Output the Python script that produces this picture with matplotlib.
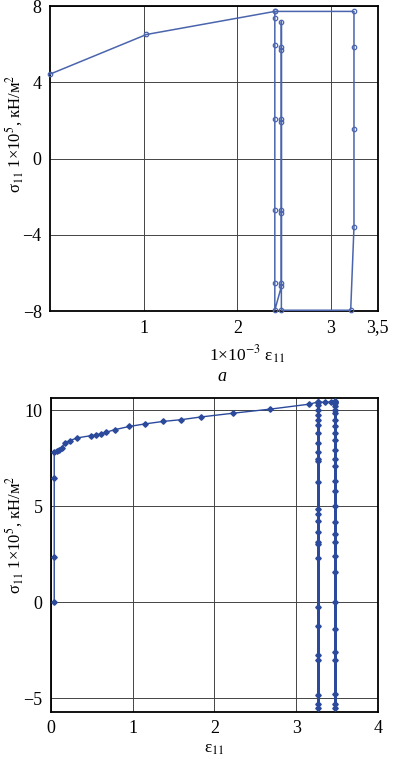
import numpy as np
import matplotlib
matplotlib.use("Agg")
import matplotlib.pyplot as plt

plt.rcParams["font.family"] = ["Liberation Serif", "DejaVu Serif"]
plt.rcParams["mathtext.fontset"] = "stix"

# --- panel a: strain x1e-3 vs stress ---
eps_a = [0.0, 1.03, 2.40, 2.40, 2.40, 2.40, 2.40, 2.40, 2.40,
         2.47, 2.47, 2.47, 2.47, 2.47, 2.47, 2.47, 2.47, 2.47, 2.47,
         3.21, 3.245, 3.245, 3.245, 3.245, 2.40]
sig_a = [4.43, 6.51, 7.72, 7.4, 5.95, 2.1, -2.7, -6.5, -7.95,
         -6.7, -2.84, 1.93, 5.7, 7.18, 5.86, 2.1, -2.7, -6.5, -7.95,
         -7.95, -3.6, 1.58, 5.85, 7.72, 7.72]

# --- panel b: loading branch ---
eps_load = [0.04, 0.04, 0.04, 0.04, 0.07, 0.10, 0.13, 0.17, 0.23, 0.32, 0.49,
            0.55, 0.61, 0.67, 0.78, 0.96, 1.15, 1.37, 1.59, 1.83, 2.23, 2.68,
            3.16, 3.27]
sig_load = [0.0, 2.38, 6.5, 7.85, 7.87, 7.95, 8.05, 8.31, 8.43, 8.57, 8.69,
            8.73, 8.78, 8.86, 9.0, 9.17, 9.3, 9.43, 9.52, 9.66, 9.86, 10.07,
            10.33, 10.45]

# cycles at constant strain
eps_c1 = 3.27
sig_c1 = [10.3, 10.04, 9.78, 9.52, 9.26, 8.84, 8.33, 7.86, 7.45, 7.35, 6.25,
          4.85, 4.6, 4.23, 3.66, 3.15, 3.04, 2.32, -0.22, -1.25, -2.76, -3.02,
          -4.85, -5.28, -5.5, 10.45]
eps_top = [3.35, 3.42]
sig_top = [10.42, 10.45]
eps_c2 = 3.48
sig_c2 = [10.45, 10.38, 10.21, 10.04, 9.87, 9.52, 9.17, 8.83, 8.48, 7.96, 7.45,
          7.1, 6.32, 5.8, 5.0, 4.17, 3.56, 3.13, 2.44, 1.56, 0.0, -1.38, -2.57,
          -3.0, -4.77, -5.3, -5.5, 10.5]

col_a = "#4a65ad"
col_b = "#2c4a9c"
grid_col = "#444444"

fig = plt.figure(figsize=(3.95, 7.59), dpi=100)

# top panel
ax1 = fig.add_axes([0.1266, 0.590, 0.830, 0.402])
ax1.plot(eps_a, sig_a, color=col_a, lw=1.1, marker="o", ms=3.2,
         mfc="none", mec=col_a, mew=0.9, clip_on=False, zorder=3)
ax1.set_xlim(0, 3.5)
ax1.set_ylim(-8, 8)
ax1.set_xticks([1, 2, 3, 3.5])
ax1.set_xticklabels(["1", "2", "3", "3,5"])
ax1.set_yticks([-8, -4, 0, 4, 8])
ax1.set_yticklabels(["\u22128", "\u22124", "0", "4", "8"])
ax1.grid(True, color=grid_col, lw=0.7)
ax1.set_xlabel("1×10$^{-3}$ ε$_{11}$", fontsize=12.5)
ax1.xaxis.set_label_coords(0.60, -0.105)
ax1.set_ylabel("σ$_{11}$ 1×10$^5$, кН/м$^2$", fontsize=12)
ax1.yaxis.set_label_coords(-0.076, 0.58)
ax1.text(0.526, -0.215, "a", transform=ax1.transAxes, fontsize=13,
         style="italic", ha="center", va="center")

# bottom panel
ax2 = fig.add_axes([0.129, 0.0623, 0.828, 0.4133])
ax2.plot(eps_load, sig_load, color=col_b, lw=1.0, marker="D", ms=2.8,
         mfc=col_b, mec=col_b, zorder=3)
c1_x = [eps_c1] * len(sig_c1)
ax2.plot(c1_x, sig_c1, color=col_b, lw=2.0, marker="D", ms=2.8, zorder=3)
ax2.plot([eps_c1] + eps_top + [eps_c2], [sig_c1[-1]] + sig_top + [sig_c2[0]],
         color=col_b, lw=1.0, marker="D", ms=2.8, zorder=3)
c2_x = [eps_c2] * len(sig_c2)
ax2.plot(c2_x, sig_c2, color=col_b, lw=2.0, marker="D", ms=2.8, zorder=3)
ax2.set_xlim(0, 4)
ax2.set_ylim(-5.7, 10.65)
ax2.set_xticks([0, 1, 2, 3, 4])
ax2.set_yticks([-5, 0, 5, 10])
ax2.set_yticklabels(["\u22125", "0", "5", "10"])
ax2.grid(True, color=grid_col, lw=0.7)
ax2.set_xlabel("ε$_{11}$", fontsize=12.5, labelpad=3)
ax2.set_ylabel("σ$_{11}$ 1×10$^5$, кН/м$^2$", fontsize=12)
ax2.yaxis.set_label_coords(-0.08, 0.563)

for ax in (ax1, ax2):
    ax.tick_params(length=0, labelsize=13, pad=6)
    for s in ax.spines.values():
        s.set_linewidth(1.3)
        s.set_color("black")
    ax.set_axisbelow(True)

fig.savefig("out.png", dpi=100)
